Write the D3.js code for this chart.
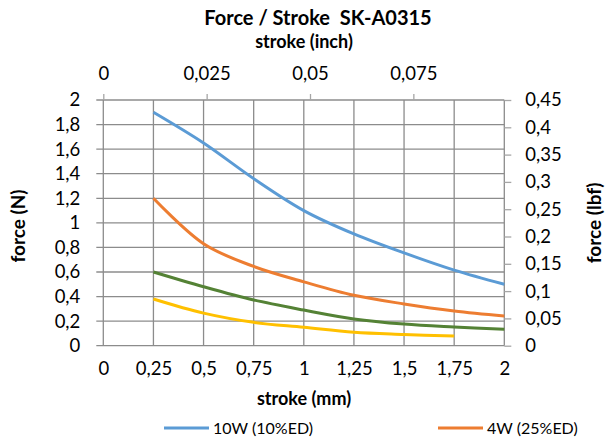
<!DOCTYPE html>
<html><head><meta charset="utf-8">
<script src="https://cdn.jsdelivr.net/npm/d3@7"></script>
<style>
html,body{margin:0;padding:0;background:#fff;}
svg{display:block;font-family:Lato,"Open Sans",sans-serif;}
</style></head>
<body>
<svg id="chart" width="608" height="439"></svg>
<script>
const strokeMM = [0.25, 0.5, 0.75, 1.0, 1.25, 1.5, 1.75, 2.0];
const force10W = [1.90, 1.65, 1.36, 1.10, 0.91, 0.755, 0.615, 0.50];
const force4W  = [1.20, 0.83, 0.645, 0.52, 0.41, 0.34, 0.283, 0.242];
const forceG   = [0.60, 0.48, 0.372, 0.29, 0.218, 0.176, 0.152, 0.133];
const forceY   = [0.38, 0.265, 0.19, 0.15, 0.11, 0.092, 0.078];
const seriesNames = ["10W (10%ED)", "4W (25%ED)", "2W (50%ED)", "1W (100%ED)"];
const seriesColors = ["#5b9bd5", "#ed7d31", "#548235", "#ffc000"];
const bottomTicks = [0, 0.25, 0.5, 0.75, 1, 1.25, 1.5, 1.75, 2];
const topTicks = [0, 0.025, 0.05, 0.075];
const leftTicks = [0, 0.2, 0.4, 0.6, 0.8, 1, 1.2, 1.4, 1.6, 1.8, 2];
const rightTicks = [0, 0.05, 0.1, 0.15, 0.2, 0.25, 0.3, 0.35, 0.4, 0.45];

const svg = d3.select("#chart");
const L = 103.3, R = 504.3, T = 100, B = 345.7;
const x = d3.scaleLinear().domain([0, 2]).range([L, R]);
const xTop = d3.scaleLinear().domain([0, 0.0970]).range([L, R]);
const y = d3.scaleLinear().domain([0, 2]).range([B, T]);
const yR = d3.scaleLinear().domain([0, 0.45]).range([B, T]);
const fmt = d => String(d).replace(".", ",");

// gridlines
const grid = svg.append("g");
grid.selectAll(".hg").data(leftTicks).enter().append("line")
  .attr("x1", L - 7).attr("x2", R).attr("y1", d => y(d)).attr("y2", d => y(d))
  .attr("stroke", "#8c8c8c").attr("stroke-width", 1.3);
grid.selectAll(".vg").data(bottomTicks).enter().append("line")
  .attr("x1", d => x(d)).attr("x2", d => x(d)).attr("y1", T).attr("y2", B)
  .attr("stroke", "#8c8c8c").attr("stroke-width", 1.3);

// axes
const fs = 18.5;
const axL = svg.append("g").attr("transform", `translate(${L},0)`)
  .call(d3.axisLeft(y).tickValues(leftTicks).tickFormat(fmt).tickSize(0).tickPadding(23));
const axR = svg.append("g").attr("transform", `translate(${R},0)`)
  .call(d3.axisRight(yR).tickValues(rightTicks).tickFormat(fmt).tickSize(7).tickPadding(14));
const axB = svg.append("g").attr("transform", `translate(0,${B})`)
  .call(d3.axisBottom(x).tickValues(bottomTicks).tickFormat(fmt).tickSize(0).tickPadding(16));
const axT = svg.append("g").attr("transform", `translate(0,${T})`)
  .call(d3.axisTop(xTop).tickValues(topTicks).tickFormat(fmt).tickSize(6).tickPadding(14));
[axL, axR, axB, axT].forEach(a => {
  a.select(".domain").remove();
  a.selectAll("line").attr("stroke", "#a6a6a6").attr("stroke-width", 1.3);
  a.selectAll("text").attr("fill", "#000").style("font-size", fs + "px")
    .style("font-family", "Lato, sans-serif");
});

// lines
const allSeries = [force10W, force4W, forceG, forceY];
const line = d3.line().x(d => x(d[0])).y(d => y(d[1])).curve(d3.curveCatmullRom.alpha(0.5));
allSeries.forEach((vals, i) => {
  const pts = vals.map((v, j) => [strokeMM[j], v]);
  svg.append("path").datum(pts).attr("d", line)
    .attr("fill", "none").attr("stroke", seriesColors[i]).attr("stroke-width", 3)
    .attr("stroke-linecap", "butt").attr("stroke-linejoin", "round");
});

// titles
svg.append("text").attr("x", 318).attr("y", 25).attr("text-anchor", "middle")
  .style("font-weight", "bold").style("font-size", "20px").text("Force / Stroke\u00a0\u00a0SK-A0315");
svg.append("text").attr("x", 304).attr("y", 48).attr("text-anchor", "middle")
  .style("font-weight", "bold").style("font-size", "18px").text("stroke (inch)");
svg.append("text").attr("x", 304).attr("y", 405).attr("text-anchor", "middle")
  .style("font-weight", "bold").style("font-size", "18px").text("stroke (mm)");
svg.append("text").attr("transform", "translate(25,226) rotate(-90)").attr("text-anchor", "middle")
  .style("font-weight", "bold").style("font-size", "19px").text("force (N)");
svg.append("text").attr("transform", "translate(601,223) rotate(-90)").attr("text-anchor", "middle")
  .style("font-weight", "bold").style("font-size", "19px").text("force (lbf)");

// legend (only first two entries visible in frame)
const legX = [164, 438];
[0, 1].forEach(i => {
  const g = svg.append("g").attr("transform", `translate(${legX[i]},428)`);
  g.append("line").attr("x1", 0).attr("x2", 45).attr("y1", 0).attr("y2", 0)
    .attr("stroke", seriesColors[i]).attr("stroke-width", 3);
  g.append("text").attr("x", 49).attr("y", 5.5).style("font-size", "16px").text(seriesNames[i]);
});
</script>
</body></html>
